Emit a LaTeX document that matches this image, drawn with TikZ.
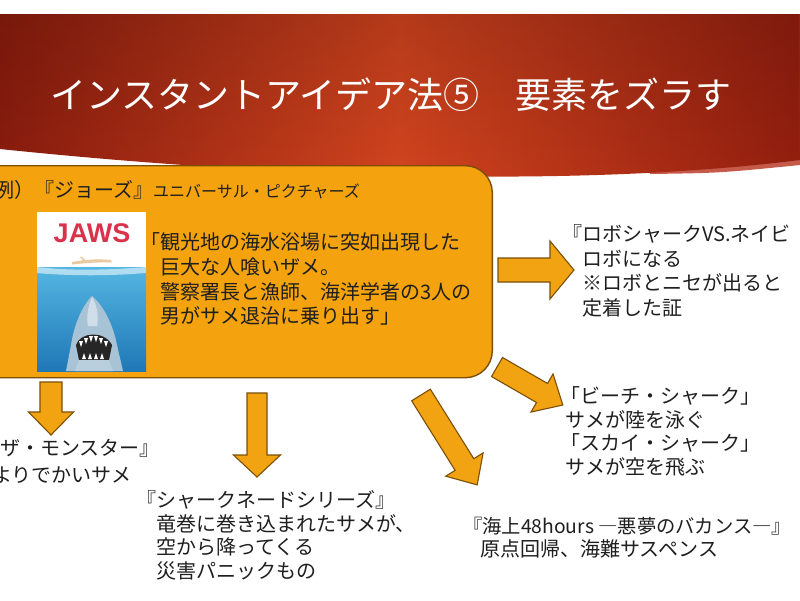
\documentclass[tikz,border=0pt]{standalone}
\usepackage{fontspec}
\setmainfont{Noto Sans CJK JP}
\newfontfamily\jawsfont{Liberation Sans}
\usetikzlibrary{fadings}
\definecolor{bannerdark}{HTML}{8C1D0E}
\definecolor{bannerright}{HTML}{951F0F}
\definecolor{bannermid}{HTML}{D4451F}
\definecolor{bannerlip}{HTML}{C65A4A}
\definecolor{boxfill}{HTML}{F4A30F}
\definecolor{boxline}{HTML}{7B4F06}
\definecolor{arrowfill}{HTML}{F2A312}
\definecolor{ink}{HTML}{1F1F1F}
\definecolor{jawsred}{HTML}{D8334A}
\definecolor{waterA}{HTML}{55B6E2}
\definecolor{waterB}{HTML}{1F78B6}
\definecolor{sharkgray}{HTML}{A9C3D6}
\definecolor{swim}{HTML}{E8C9A0}
\tikzfading[name=fadetop, top color=transparent!0, bottom color=transparent!100]
\tikzset{
  blockarrow/.style={fill=arrowfill, draw=boxline, line width=1.1pt, line join=miter},
  txt/.style={inner sep=0pt, anchor=base west, text=ink},
}
\newcommand{\blockarr}[6]{%
  \draw[blockarrow, shift={#1}, rotate=#2]
    (0,-#4) -- ({#3-#6},-#4) -- ({#3-#6},-#5) -- (#3,0) -- ({#3-#6},#5) -- ({#3-#6},#4) -- (0,#4) -- cycle;}
\begin{document}
\begin{tikzpicture}[x=1pt,y=-1pt]
\useasboundingbox (0,0) rectangle (800,600);
\clip (0,0) rectangle (800,600);
\fill[white] (0,0) rectangle (800,600);
% banner
\fill[bannerlip] (650,174) .. controls (720,173) .. (800,165) -- (800,150) -- (650,150) -- cycle;
\shade[left color=bannerdark, right color=bannerright, middle color=bannermid]
  (0,14) -- (800,14) -- (800,160) .. controls (560,190) and (250,175) .. (0,149) -- cycle;
\fill[black, opacity=0.15, path fading=fadetop]
  (0,14) -- (800,14) -- (800,160) .. controls (560,190) and (250,175) .. (0,149) -- cycle;
\node[inner sep=0pt, anchor=base, text=white, font=\fontsize{36}{36}\selectfont] (title) at (391,108.5) {インスタントアイデア法⑤　要素をズラす};
% example box
\node[draw=boxline, fill=boxfill, line width=1.4pt, rounded corners=27pt, minimum width=540pt, minimum height=212pt, anchor=north east, inner sep=0pt] (example) at (493,165) {};
\node[txt, font=\fontsize{20}{20}\selectfont] (heading) at (-6,197) {例）『ジョーズ』{\fontsize{16}{16}\selectfont ユニバーサル・ピクチャーズ}};
% poster
\fill[white] (37,212) rectangle (146,268);
\shade[top color=waterA, bottom color=waterB] (37,267) rectangle (146,371);
\fill[white, opacity=0.55] (37,267) .. controls (70,271) and (110,270) .. (146,267) -- (146,273) .. controls (110,276) and (70,276) .. (37,273) -- cycle;
\fill[swim] (72,262) .. controls (88,259) and (100,259) .. (111,260) -- (112,262.5) .. controls (98,262) and (86,263) .. (72,264.5) -- cycle;
\fill[swim] (84,261) -- (80,257) -- (81.5,256.5) -- (86,260.5) -- cycle;
\fill[sharkgray] (92,296) .. controls (82,306) and (74,325) .. (71,345) -- (66,371) -- (123,371) -- (117,345) .. controls (113,324) and (103,305) .. (92,296) -- cycle;
\fill[white, opacity=0.45] (92,297) .. controls (88,306) and (86,318) .. (88,326) -- (97,326) .. controls (99,316) and (97,305) .. (92,297) -- cycle;
\fill[black!85] (76,345) .. controls (80,332) and (104,330) .. (112,345) -- (109,360) -- (79,360) -- cycle;
\foreach \x/\y in {81/341,86/338,91/336,96/336,101/338,106/341}
  \fill[white] ({\x-2},\y) -- (\x,{\y+6}) -- ({\x+2},\y) -- cycle;
\foreach \x in {84,90,96,102}
  \fill[white] ({\x-2},359) -- (\x,353) -- ({\x+2},359) -- cycle;
\fill[sharkgray!80!white] (79,360) -- (109,360) -- (113,371) -- (75,371) -- cycle;
\node[inner sep=0pt, text=jawsred, font=\jawsfont\bfseries\fontsize{27}{27}\selectfont] (jaws) at (92,233) {JAWS};
% quote
\node[txt, font=\fontsize{20}{24.7}\selectfont] (quote) at (140,249.6) {\vtop{\hbox{「観光地の海水浴場に突如出現した}\hbox{　巨大な人喰いザメ。}\hbox{　警察署長と漁師、海洋学者の3人の}\hbox{　男がサメ退治に乗り出す」}}};
% arrows
\coordinate (t1) at (498,270);
\coordinate (t2) at (497,367);
\coordinate (t3) at (421,395);
\coordinate (t4) at (51,382);
\coordinate (t5) at (257,393);
\blockarr{(t1)}{0}{76}{12}{29}{24}
\blockarr{(t2)}{-30}{76}{11}{22}{24}
\blockarr{(t3)}{-58}{106}{11}{22}{24}
\blockarr{(t4)}{-90}{53}{11}{22.5}{23}
\blockarr{(t5)}{-90}{84}{10}{23.5}{22}
% results
\node[txt, font=\fontsize{20}{24.5}\selectfont] (robo) at (562,241.5) {\vtop{\hbox{『ロボシャークVS.ネイビ}\hbox{　ロボになる}\hbox{　※ロボとニセが出ると}\hbox{　定着した証}}};
\node[txt, font=\fontsize{20}{23.7}\selectfont] (beach) at (565,403.5) {\vtop{\hbox{\kern-5pt「ビーチ・シャーク」}\hbox{サメが陸を泳ぐ}\hbox{\kern-5pt「スカイ・シャーク」}\hbox{サメが空を飛ぶ}}};
\node[txt, font=\fontsize{20}{26.5}\selectfont] (monster) at (-8,455.5) {\vtop{\hbox{\kern8pt ザ・モンスター』}\hbox{よりでかいサメ}}};
\node[txt, font=\fontsize{20}{23.7}\selectfont] (tornado) at (136,507.5) {\vtop{\hbox{『シャークネードシリーズ』}\hbox{　竜巻に巻き込まれたサメが、}\hbox{　空から降ってくる}\hbox{　災害パニックもの}}};
\node[txt, font=\fontsize{20}{22.5}\selectfont] (kaijo) at (463,533.5) {\vtop{\hbox{\fontsize{19.3}{22.5}\selectfont『海上48hours ―悪夢のバカンス―』}\hbox{\kern17pt 原点回帰、海難サスペンス}}};
\end{tikzpicture}
\end{document}
